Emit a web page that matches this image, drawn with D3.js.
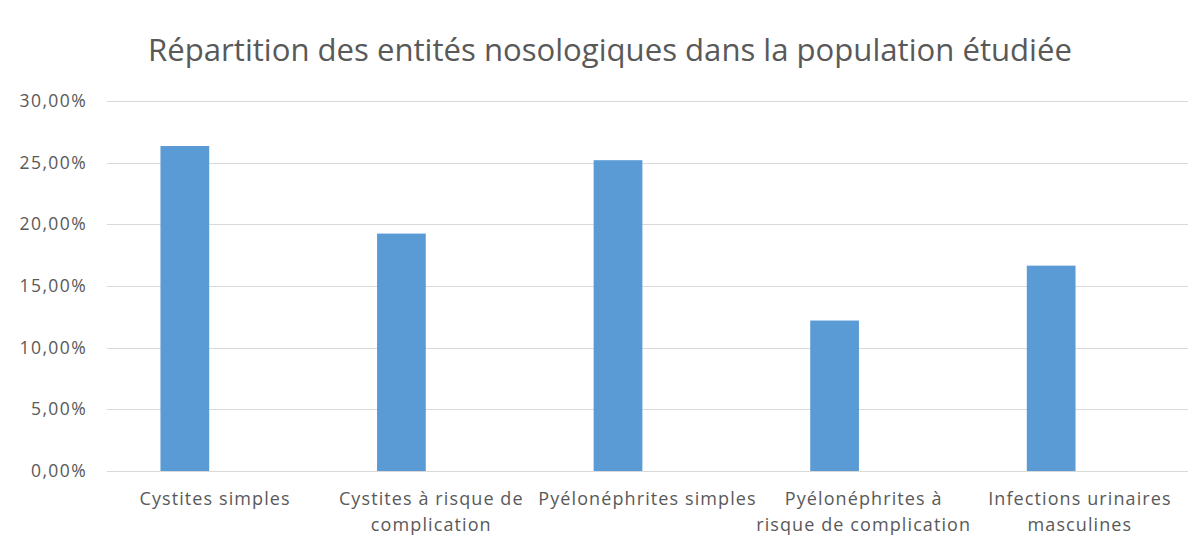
<!DOCTYPE html>
<html>
<head>
<meta charset="utf-8">
<title>Répartition des entités nosologiques</title>
<script src="https://cdn.jsdelivr.net/npm/d3@7"></script>
<style>
body { margin:0; background:#fff; }
text { font-family: "Open Sans", Lato, sans-serif; fill:#595959; }
</style>
</head>
<body>
<div id="chart"></div>
<script>
// data
var categories = [
  ["Cystites simples"],
  ["Cystites à risque de", "complication"],
  ["Pyélonéphrites simples"],
  ["Pyélonéphrites à", "risque de complication"],
  ["Infections urinaires", "masculines"]
];
var values = [26.35, 19.25, 25.2, 12.2, 16.65];
var yTicks = [0, 5, 10, 15, 20, 25, 30];
var title = "Répartition des entités nosologiques dans la population étudiée";

var width = 1201, height = 539;
var svg = d3.select("#chart").append("svg")
  .attr("width", width).attr("height", height);

var keys = categories.map(function(d, i) { return i; });

// labels band and bars band (bars sit a bit left of the labels in the picture)
var xLab = d3.scaleBand().domain(keys).range([107, 1188]);
var xBar = d3.scaleBand().domain(keys).range([76, 1160]).paddingInner(0.775).paddingOuter(0.39);
var y = d3.scaleLinear().domain([0, 30]).range([471, 101]);

// gridlines
svg.append("g").selectAll("line").data(yTicks).enter().append("line")
  .attr("x1", 107).attr("x2", 1188)
  .attr("y1", function(d) { return Math.round(y(d)) + 0.5; })
  .attr("y2", function(d) { return Math.round(y(d)) + 0.5; })
  .attr("stroke", "#d9d9d9").attr("stroke-width", 1);

// y labels
svg.append("g").selectAll("text").data(yTicks).enter().append("text")
  .attr("x", 87).attr("y", function(d) { return y(d) + 6; })
  .attr("text-anchor", "end").attr("font-size", 17.5)
  .attr("letter-spacing", 1.4)
  .text(function(d) { return d.toFixed(2).replace(".", ",") + "%"; });

// bars
svg.append("g").selectAll("rect").data(values).enter().append("rect")
  .attr("x", function(d, i) { return xBar(i); })
  .attr("width", xBar.bandwidth())
  .attr("y", function(d) { return y(d); })
  .attr("height", function(d) { return y(0) - y(d); })
  .attr("fill", "#5b9bd5");

// x labels
var lab = svg.append("g").selectAll("text").data(categories).enter().append("text")
  .attr("text-anchor", "middle").attr("font-size", 18)
  .attr("letter-spacing", 1.1)
  .attr("transform", function(d, i) { return "translate(" + (xLab(i) + xLab.bandwidth() / 2) + ",0)"; });
lab.selectAll("tspan").data(function(d) { return d; }).enter().append("tspan")
  .attr("x", 0).attr("y", function(d, j) { return 505 + j * 26; })
  .text(function(d) { return d; });

// title
var t = svg.append("text").attr("x", 610).attr("y", 61)
  .attr("text-anchor", "middle").attr("font-size", 30)
  .text(title);
// squeeze/stretch to the width seen in the picture
var tw = t.node().getComputedTextLength();
t.attr("font-size", 30 * 924 / tw);
</script>
</body>
</html>
